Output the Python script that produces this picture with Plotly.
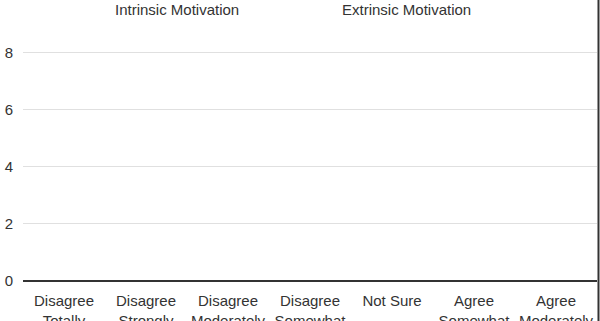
import plotly.graph_objects as go

categories = ["Disagree<br>Totally", "Disagree<br>Strongly", "Disagree<br>Moderately",
              "Disagree<br>Somewhat", "Not Sure", "Agree<br>Somewhat", "Agree<br>Moderately"]
intrinsic = [0, 0, 0, 0, 0, 0, 0]
extrinsic = [0, 0, 0, 0, 0, 0, 0]
y_ticks = [0, 2, 4, 6, 8]

fig = go.Figure()
fig.add_trace(go.Bar(x=categories, y=intrinsic, name="Intrinsic Motivation",
                     marker=dict(color="rgba(0,0,0,0)", line=dict(width=0))))
fig.add_trace(go.Bar(x=categories, y=extrinsic, name="Extrinsic Motivation",
                     marker=dict(color="rgba(0,0,0,0)", line=dict(width=0))))

fig.update_layout(
    width=600, height=321,
    margin=dict(l=23, r=3, t=24, b=40, autoexpand=False),
    paper_bgcolor="white", plot_bgcolor="white",
    font=dict(family="Liberation Sans, Arial, sans-serif", size=15, color="#333"),
    showlegend=True,
    legend=dict(orientation="h", xref="container", yref="container",
                x=0.125, xanchor="left", y=0.972, yanchor="middle",
                entrywidth=182, entrywidthmode="pixels",
                font=dict(size=15, color="#333"), bgcolor="rgba(0,0,0,0)"),
    bargap=0.2,
)
fig.update_xaxes(showgrid=False, showline=False, ticks="", ticklabelstandoff=9,
                 tickfont=dict(size=15, color="#333"))
fig.update_yaxes(range=[0, 9], tickvals=y_ticks, showgrid=True, gridcolor="#e0e0e0", gridwidth=1,
                 zeroline=True, zerolinecolor="#333", zerolinewidth=2, showline=False,
                 ticklabelstandoff=9, tickfont=dict(size=15, color="#333"))
fig.add_shape(type="line", xref="paper", yref="paper", x0=1.0026, x1=1.0026, y0=-0.2, y1=1.2,
              line=dict(color="#333", width=2))
fig.write_html("out.html")
